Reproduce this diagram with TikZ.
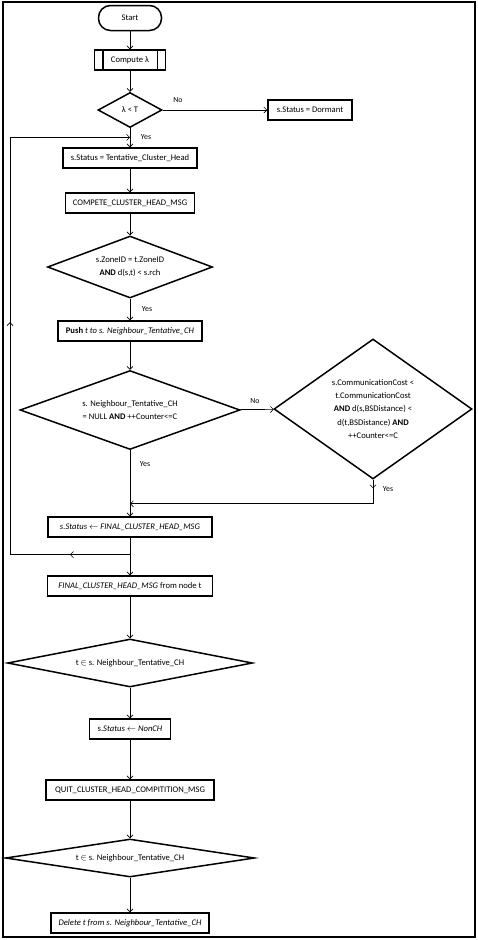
\documentclass[tikz,border=0pt]{standalone}
\usepackage{fontspec}
\setmainfont{Carlito}
\usepackage{amsmath}
\usetikzlibrary{
	positioning,
	arrows.meta,
	shapes.geometric,
	calc
}

\tikzset{
	procbox/.style={
		draw,
		line width=1.5pt,
		rectangle,
		minimum height=20pt,
		inner sep=1pt,
		align=center
	},
	terminal/.style={
		draw,
		line width=1.5pt,
		rectangle,
		rounded corners=12pt,
		minimum width=63pt,
		minimum height=25pt
	},
	decision/.style={
		draw,
		line width=1.5pt,
		diamond,
		inner sep=0pt,
		align=center,
		font=\fontsize{8.6}{13.3}\selectfont
	},
	flow/.style={
		line width=0.6pt,
		-{Straight Barb[length=3pt,width=6pt]}
	},
	plain/.style={
		line width=0.6pt
	},
	lbl/.style={
		font=\fontsize{7.8}{9}\selectfont
	}
}

\begin{document}
\begin{tikzpicture}[
	x=1pt,
	y=-1pt,
	every node/.append style={font=\fontsize{8.6}{10}\selectfont}
	]
	
	\useasboundingbox (0,0) rectangle (478,940);
	\draw[line width=1.5pt] (3,2) rectangle (475,937);
	
	\node[terminal] (start) at (130,18) {Start};
	\node[procbox, minimum width=71pt] (cmp) at (130,60) {Compute λ};
	\draw[line width=1.5pt] ([xshift=9pt]cmp.north west) -- ([xshift=9pt]cmp.south west);
	\draw[line width=1.5pt] ([xshift=-9pt]cmp.north east) -- ([xshift=-9pt]cmp.south east);
	\node[decision, minimum width=64pt, minimum height=35pt, aspect=1.8] (lam) at (130,110) {λ < T};
	\node[procbox, minimum width=84pt] (dorm) at (310,110) {s.Status = Dormant};
	\node[procbox, minimum width=134pt] (tch) at (130,158) {s.Status = Tentative\_Cluster\_Head};
	\node[procbox, minimum width=129pt] (cmsg) at (130,203) {COMPETE\_CLUSTER\_HEAD\_MSG};
	\node[decision, minimum width=165pt, minimum height=62pt, aspect=2.6] (zone) at (130,267)
	{s.ZoneID = t.ZoneID\\ \textbf{AND} d(s,t) < s.rch};
	\node[procbox, minimum width=144pt] (push) at (130,331)
	{\textbf{Push} \textit{t to s. Neighbour\_Tentative\_CH}};
	\node[decision, minimum width=220pt, minimum height=79pt, aspect=2.8] (nbr) at (130,410)
	{s. Neighbour\_Tentative\_CH\\ = NULL \textbf{AND} ++Counter<=C};
	\node[decision, minimum width=198pt, minimum height=140pt, aspect=1.41] (cost) at (373,409)
	{s.CommunicationCost <\\ t.CommunicationCost\\ \textbf{AND} d(s,BSDistance) <\\ d(t,BSDistance) \textbf{AND}\\ ++Counter<=C};
	\node[procbox, minimum width=164pt] (fin) at (130,527)
	{\textit{s.Status} $\leftarrow$ \textit{FINAL\_CLUSTER\_HEAD\_MSG}};
	\node[procbox, minimum width=165pt] (fmsg) at (130,586)
	{\textit{FINAL\_CLUSTER\_HEAD\_MSG} from node t};
	\node[decision, minimum width=245pt, minimum height=48pt, aspect=5.1] (memb1) at (130,663)
	{t $\in$ s. Neighbour\_Tentative\_CH};
	\node[procbox, minimum width=81pt] (nonch) at (130,729) {s.\textit{Status} $\leftarrow$ \textit{NonCH}};
	\node[procbox, minimum width=168pt] (quit) at (130,790) {QUIT\_CLUSTER\_HEAD\_COMPITITION\_MSG};
	\node[decision, minimum width=249pt, minimum height=38pt, aspect=6.5] (memb2) at (130,858)
	{t $\in$ s. Neighbour\_Tentative\_CH};
	\node[procbox, minimum width=158pt] (del) at (130,923)
	{\textit{Delete t from s. Neighbour\_Tentative\_CH}};
	
	\draw[flow] (start) -- (cmp);
	\draw[flow] (cmp) -- (lam);
	\draw[flow] (lam) -- (dorm);
	\draw[flow] (lam) -- (tch);
	\draw[flow] (tch) -- (cmsg);
	\draw[flow] (cmsg) -- (zone);
	\draw[flow] (zone) -- (push);
	\draw[flow] (push) -- (nbr);
	\draw[flow] (nbr) -- (cost);
	\draw[flow] (nbr) -- (fin);
	\draw[flow] (fin) -- (fmsg);
	\draw[flow] (fmsg) -- (memb1);
	\draw[flow] (memb1) -- (nonch);
	\draw[flow] (nonch) -- (quit);
	\draw[flow] (quit) -- (memb2);
	\draw[flow] (memb2) -- (del);
	
	\coordinate (costdn) at ($(cost.south)+(0,24)$);
	\coordinate (join) at (nbr.south |- costdn);
	\draw[flow] (cost.south) -- ($(cost.south)!0.35!(costdn)$);
	\draw[plain] (cost.south) -- (costdn);
	\draw[flow] (costdn) -- (join);
	
	\coordinate (loopB) at ($(fin.south)!0.45!(fmsg.north)$);
	\coordinate (loopL) at (10,0 |- loopB);
	\coordinate (yesJoin) at ($(lam.south)!0.48!(tch.north)$);
	\coordinate (loopT) at (loopL |- yesJoin);
	\draw[plain] (loopB) -- (loopL) -- (loopT);
	\draw[flow] (loopB) -- ($(loopB)!0.5!(loopL)$);
	\draw[flow] (loopL) -- ($(loopL)!0.557!(loopT)$);
	\draw[flow] (loopT) -- (yesJoin);
	
	\node[lbl] (noA) at (178,100) {No};
	\node[lbl] (yesA) at (146,137) {Yes};
	\node[lbl] (yesB) at (147,309) {Yes};
	\node[lbl] (noB) at (255,401) {No};
	\node[lbl] (yesC) at (145,464) {Yes};
	\node[lbl] (yesD) at (388,489) {Yes};
	
\end{tikzpicture}
\end{document}
